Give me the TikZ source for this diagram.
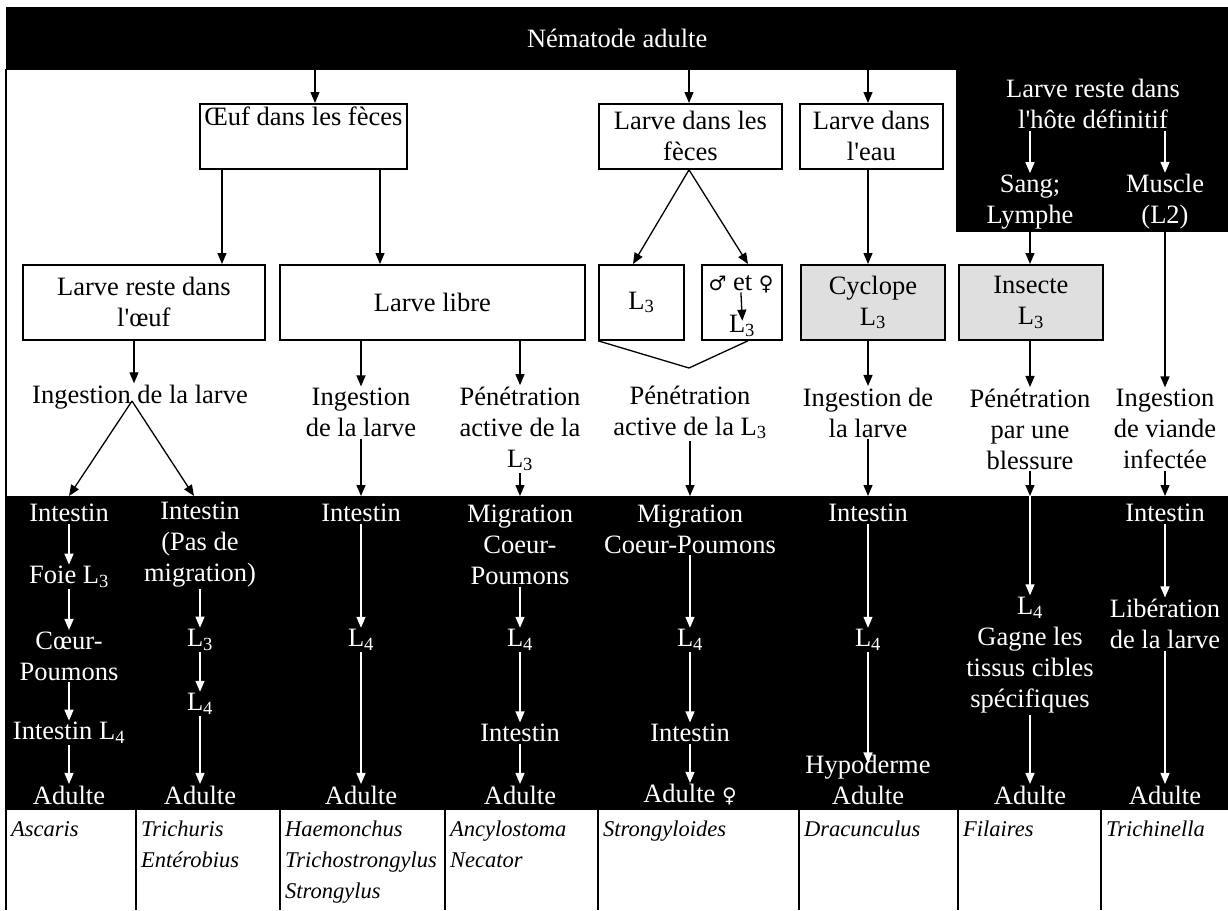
\documentclass[tikz,border=0pt]{standalone}
\usepackage{fontspec}
\setmainfont{Liberation Serif}
\newfontfamily\symfam{DejaVu Sans}
\usetikzlibrary{arrows.meta}
\newcommand\mainfs{\fontsize{26.5}{31}\selectfont}
\newcommand\itfs{\fontsize{22.5}{31}\selectfont\itshape}
\newcommand\symb[1]{{\symfam\fontsize{20}{20}\selectfont #1}}
\newcommand\Lsub[1]{L\textsubscript{#1}}
\newcommand\apo{\textquotesingle}
\begin{document}
\begin{tikzpicture}[x=1pt,y=-1pt,
  txt/.style={inner sep=1.5pt,align=center,font=\mainfs},
  wtxt/.style={txt,text=white},
  box/.style={draw,line width=1.8pt,inner sep=0pt,align=center,font=\mainfs,anchor=north west},
  gbox/.style={box,fill=gray!25},
  arr/.style={-{Triangle[length=11pt,width=9pt]},line width=1.3pt},
  warr/.style={arr,white},
  ln/.style={line width=1.3pt},
  band/.style={fill=black,inner sep=0pt,anchor=north west},
  spec/.style={inner sep=0pt,align=left,font=\itfs,anchor=north west},
  tline/.style={line width=2pt}]
\useasboundingbox (0,0) rectangle (1228,910);

% black bands
\node[band,minimum width=1222,minimum height=63,text=white,font=\mainfs] (top) at (6,7) {Nématode adulte};
\node[band,minimum width=272,minimum height=163] (rb) at (956,69) {};
\node[band,minimum width=1222,minimum height=314] (bb) at (6,496) {};

% frame and table lines
\draw[tline] (6,69) -- (6,910);
\foreach \x in {136,280,445,598,799,958,1101} \draw[tline] (\x,810) -- (\x,910);

% row 1 boxes
\node[box,minimum width=207,minimum height=65] (oeuf) at (199,103) {Œuf dans les fèces\\\strut};
\node[box,minimum width=183,minimum height=65] (feces) at (598,103) {Larve dans les\\fèces};
\node[box,minimum width=143,minimum height=65] (eau) at (799,103) {Larve dans\\l\apo eau};

% right block texts
\node[wtxt] (lrd) at (1093,104) {Larve reste dans\\l\apo hôte définitif};
\node[wtxt] (sang) at (1030,202) {Sang;\\Lymphe};
\node[wtxt] (musc) at (1165,202) {Muscle\\(L2)};

% row 2 boxes
\node[box,minimum width=242,minimum height=75] (b1) at (22,264) {Larve reste dans\\l\apo œuf};
\node[box,minimum width=305,minimum height=75] (b2) at (279,264) {Larve libre};
\node[box,minimum width=85,minimum height=75] (b3) at (598,264) {\Lsub{3}};
\node[box,minimum width=80,minimum height=75] (b4) at (701,264) {};
\node[gbox,minimum width=144,minimum height=75] (b5) at (800,264) {Cyclope\\\Lsub{3}};
\node[gbox,minimum width=144,minimum height=75] (b6) at (958,264) {Insecte\\\Lsub{3}};
\node[txt] (sx) at (741,284) {\symb{♂} et \symb{♀}};
\node[txt] (l3b) at (742,326) {\Lsub{3}};

% row 3 texts
\node[txt] (t1) at (140,397) {Ingestion de la larve};
\node[txt] (t2) at (361,412.5) {Ingestion\\de la larve};
\node[txt] (t3) at (520,429) {Pénétration\\active de la\\\Lsub{3}};
\node[txt] (t4) at (690,412.5) {Pénétration\\active de la \Lsub{3}};
\node[txt] (t5) at (868,412.5) {Ingestion de\\la larve};
\node[txt] (t6) at (1030,429) {Pénétration\\par une\\blessure};
\node[txt] (t7) at (1165,429) {Ingestion\\de viande\\infectée};

% bottom band texts
\node[wtxt] (c1a) at (69,513) {Intestin};
\node[wtxt] (c1b) at (69,577) {Foie \Lsub{3}};
\node[wtxt] (c1c) at (69,656) {Cœur-\\Poumons};
\node[wtxt] (c1d) at (69,733) {Intestin \Lsub{4}};
\node[wtxt] (c1e) at (69,795) {Adulte};

\node[wtxt] (c2a) at (200,545) {Intestin\\(Pas de\\migration)};
\node[wtxt] (c2b) at (200,640) {\Lsub{3}};
\node[wtxt] (c2c) at (200,704) {\Lsub{4}};
\node[wtxt] (c2e) at (200,795) {Adulte};

\node[wtxt] (c3a) at (361,513) {Intestin};
\node[wtxt] (c3b) at (361,640) {\Lsub{4}};
\node[wtxt] (c3e) at (361,795) {Adulte};

\node[wtxt] (c4a) at (520,545) {Migration\\Coeur-\\Poumons};
\node[wtxt] (c4b) at (520,640) {\Lsub{4}};
\node[wtxt] (c4c) at (520,733) {Intestin};
\node[wtxt] (c4e) at (520,795) {Adulte};

\node[wtxt] (c5a) at (690,529) {Migration\\Coeur-Poumons};
\node[wtxt] (c5b) at (690,640) {\Lsub{4}};
\node[wtxt] (c5c) at (690,733) {Intestin};
\node[wtxt] (c5e) at (690,795) {Adulte \symb{♀}};

\node[wtxt] (c6a) at (868,513) {Intestin};
\node[wtxt] (c6b) at (868,640) {\Lsub{4}};
\node[wtxt] (c6c) at (868,780) {Hypoderme\\Adulte};

\node[wtxt] (c7a) at (1030,655) {\Lsub{4}\\Gagne les\\tissus cibles\\spécifiques};
\node[wtxt] (c7e) at (1030,795) {Adulte};

\node[wtxt] (c8a) at (1165,513) {Intestin};
\node[wtxt] (c8b) at (1165,624) {Libération\\de la larve};
\node[wtxt] (c8e) at (1165,795) {Adulte};

% table species
\node[spec] (s1) at (11,821) {Ascaris};
\node[spec] (s2) at (141,821) {Trichuris\\Entérobius};
\node[spec] (s3) at (285,821) {Haemonchus\\Trichostrongylus\\Strongylus};
\node[spec] (s4) at (450,821) {Ancylostoma\\Necator};
\node[spec] (s5) at (603,821) {Strongyloides};
\node[spec] (s6) at (804,821) {Dracunculus};
\node[spec] (s7) at (963,821) {Filaires};
\node[spec] (s8) at (1106,821) {Trichinella};

% helper x positions
\coordinate (xa) at (315,0);
\coordinate (xb) at (689,0);
\coordinate (xc) at (868,0);
\coordinate (xd) at (222,0);
\coordinate (xe) at (380,0);
\coordinate (xf) at (633,0);
\coordinate (xg) at (748,0);
\coordinate (xh) at (134,0);
\coordinate (xk) at (194,0);
\coordinate (v1) at (132,401);
\coordinate (v2) at (689,368);

% arrows top
\draw[arr] (top.south -| xa) -- (oeuf.north -| xa);
\draw[arr] (top.south -| xb) -- (feces.north -| xb);
\draw[arr] (top.south -| xc) -- (eau.north -| xc);
\draw[arr] (oeuf.south -| xd) -- (b1.north -| xd);
\draw[arr] (oeuf.south -| xe) -- (b2.north -| xe);
\draw[arr] (feces.south -| xb) -- (b3.north -| xf);
\draw[arr] (feces.south -| xb) -- (b4.north -| xg);
\draw[arr] (eau.south -| xc) -- (b5.north -| xc);
\draw[warr] (lrd.south -| sang) -- (sang.north);
\draw[warr] (lrd.south -| musc) -- (musc.north);
\draw[arr] (rb.south -| sang) -- (b6.north -| sang);
\draw[arr] (rb.south -| musc) -- (t7.north);
\draw[arr,shorten <=-2pt,shorten >=-7pt] (sx.south) -- (l3b.north);

% row 2 -> row 3
\draw[arr] (b1.south -| xh) -- (t1.north -| xh);
\draw[arr] (b2.south -| t2) -- (t2.north);
\draw[arr] (b2.south -| t3) -- (t3.north);
\draw[ln] (b3.south west) -- (v2) -- (b4.south -| xg);
\draw[arr] (b5.south -| xc) -- (t5.north -| xc);
\draw[arr] (b6.south -| t6) -- (t6.north);

% row 3 -> band
\draw[arr] (v1) -- (bb.north -| c1a);
\draw[arr] (v1) -- (bb.north -| xk);
\draw[arr] (t2.south) -- (bb.north -| t2);
\draw[arr] (t3.south) -- (bb.north -| t3);
\draw[arr] (t4.south) -- (bb.north -| t4);
\draw[arr] (t5.south) -- (bb.north -| t5);
\draw[arr] (t6.south) -- (bb.north -| t6);
\draw[arr] (t7.south) -- (bb.north -| t7);

% band arrows
\draw[warr] (c1a.south) -- (c1b.north);
\draw[warr] (c1b.south) -- (c1c.north);
\draw[warr] (c1c.south) -- (c1d.north);
\draw[warr] (c1d.south) -- (c1e.north);
\draw[warr] (c2a.south) -- (c2b.north);
\draw[warr] (c2b.south) -- (c2c.north);
\draw[warr] (c2c.south) -- (c2e.north);
\draw[warr] (c3a.south) -- (c3b.north);
\draw[warr] (c3b.south) -- (c3e.north);
\draw[warr] (c4a.south) -- (c4b.north);
\draw[warr] (c4b.south) -- (c4c.north);
\draw[warr] (c4c.south) -- (c4e.north);
\draw[warr] (c5a.south) -- (c5b.north);
\draw[warr] (c5b.south) -- (c5c.north);
\draw[warr] (c5c.south) -- (c5e.north);
\draw[warr] (c6a.south) -- (c6b.north);
\draw[warr,shorten >=-10pt] (c6b.south) -- (c6c.north);
\draw[warr] (bb.north -| c7a) -- (c7a.north);
\draw[warr] (c7a.south) -- (c7e.north);
\draw[warr] (c8a.south) -- (c8b.north);
\draw[warr] (c8b.south) -- (c8e.north);
\end{tikzpicture}
\end{document}
